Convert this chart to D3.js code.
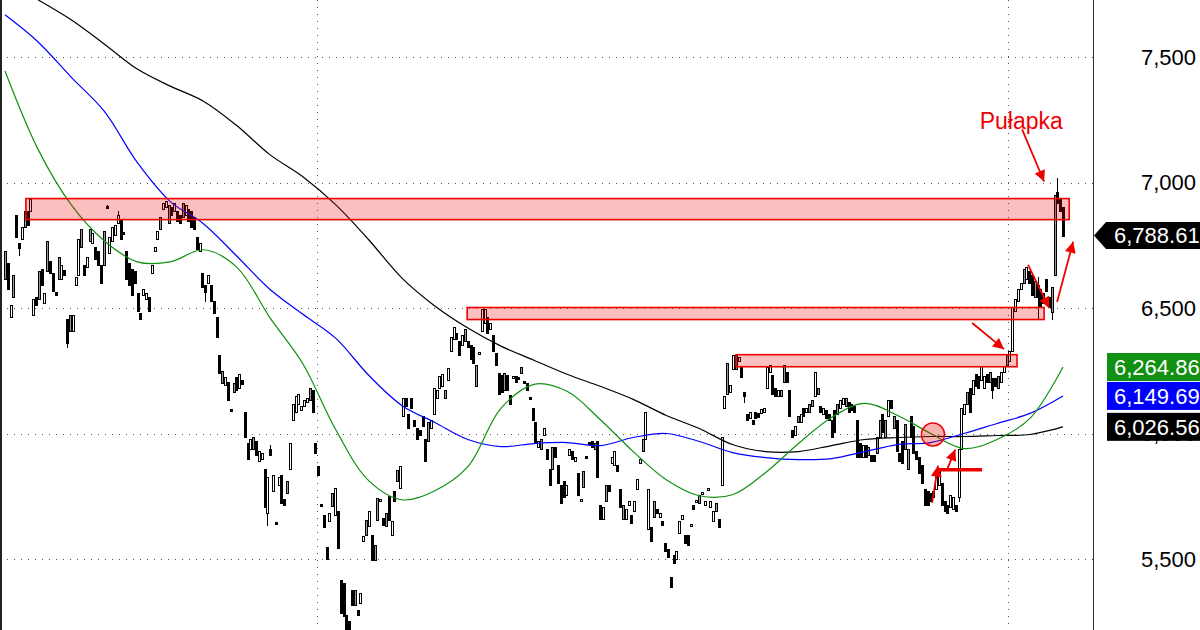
<!DOCTYPE html>
<html><head><meta charset="utf-8">
<script src="https://cdn.jsdelivr.net/npm/d3@7"></script>
<style>
html,body{margin:0;padding:0;background:#fff;}
svg{display:block;font-family:"Liberation Sans",Arial,sans-serif;}
</style></head><body>
<svg id="chart" width="1200" height="630"></svg>
<script>
// [open, high, low, close]
const priceBars = [
[6616,6728,6616,6728],[6680,6680,6576,6576],[6464,6512,6464,6512],[6544,6632,6544,6632],[6872,6872,6784,6784],[6760,6760,6712,6740],[6776,6824,6776,6824],[6824,6888,6824,6888],[6888,6888,6832,6832],[6888,6936,6888,6936],
[6472,6536,6472,6536],[6544,6544,6512,6512],[6536,6648,6536,6648],[6656,6656,6592,6592],[6520,6560,6520,6560],[6648,6768,6648,6768],[6688,6688,6640,6640],[6640,6640,6568,6568],[6564,6564,6552,6552],[6616,6704,6616,6704],
[6616,6672,6616,6672],[6652,6652,6632,6632],[6456,6456,6344,6360],[6408,6472,6408,6472],[6408,6472,6408,6472],[6592,6624,6592,6624],[6632,6776,6632,6776],[6744,6816,6744,6816],[6672,6672,6632,6632],[6664,6704,6664,6704],
[6768,6816,6768,6816],[6760,6800,6760,6800],[6744,6744,6696,6696],[6728,6728,6672,6672],[6672,6672,6600,6600],[6672,6808,6672,6808],[6908,6912,6900,6900],[6720,6784,6720,6784],[6768,6824,6768,6824],[6792,6832,6792,6832],
[6840,6888,6840,6872],[6856,6856,6776,6776],[6804,6804,6796,6796],[6728,6728,6616,6616],[6680,6680,6592,6592],[6656,6656,6552,6552],[6648,6648,6600,6600],[6560,6560,6488,6488],[6480,6480,6456,6456],[6552,6576,6552,6576],
[6536,6560,6536,6560],[6544,6544,6488,6488],[6640,6672,6640,6672],[6728,6744,6728,6744],[6776,6808,6776,6808],[6816,6864,6816,6864],[6896,6920,6896,6920],[6904,6928,6904,6928],[6840,6912,6840,6912],[6904,6904,6872,6872],
[6888,6920,6888,6920],[6888,6888,6848,6848],[6872,6872,6840,6840],[6864,6920,6864,6920],[6872,6912,6872,6912],[6896,6896,6848,6848],[6888,6888,6824,6824],[6864,6864,6816,6816],[6784,6784,6736,6736],[6728,6760,6728,6760],
[6640,6640,6584,6584],[6592,6592,6528,6564],[6600,6632,6600,6632],[6592,6592,6528,6528],[6528,6528,6480,6480],[6464,6464,6384,6384],[6312,6312,6240,6240],[6200,6248,6200,6248],[6192,6224,6192,6224],[6204,6204,6132,6132],
[6096,6096,6088,6088],[6164,6200,6164,6200],[6224,6224,6172,6172],[6180,6236,6180,6236],[6212,6212,6196,6196],[6084,6084,5988,5988],[5964,5964,5900,5900],[5940,5980,5940,5980],[5940,5988,5940,5988],[5972,5972,5916,5916],
[5892,5932,5892,5932],[5900,5924,5900,5924],[5860,5860,5708,5708],[5684,5828,5636,5828],[5940,5956,5916,5916],[5772,5836,5772,5836],[5648,5648,5640,5640],[5796,5828,5796,5828],[5836,5836,5724,5724],[5740,5740,5716,5716],
[5764,5812,5764,5812],[5860,5964,5860,5964],[6052,6116,6052,6116],[6084,6148,6084,6148],[6116,6156,6116,6156],[6092,6108,6092,6108],[6108,6132,6108,6132],[6124,6140,6124,6140],[6132,6180,6132,6180],[6172,6172,6084,6084],
[5964,5964,5924,5924],[5872,5872,5836,5836],[5720,5720,5712,5712],[5676,5676,5628,5628],[5548,5548,5500,5500],[5652,5684,5652,5684],[5712,5764,5712,5764],[5676,5784,5676,5784],[5692,5692,5544,5544],[5416,5416,5284,5284],
[5404,5404,5272,5272],[5276,5276,5164,5204],[5252,5252,5196,5220],[5376,5376,5316,5316],[5316,5376,5316,5376],[5296,5296,5276,5276],[5324,5364,5324,5364],[5572,5592,5572,5592],[5596,5656,5596,5656],[5632,5692,5632,5692],
[5596,5596,5496,5496],[5496,5556,5496,5556],[5656,5744,5656,5744],[5732,5740,5732,5740],[5664,5664,5636,5636],[5632,5684,5632,5684],[5752,5752,5656,5656],[5596,5652,5596,5652],[5772,5772,5732,5732],[5812,5856,5812,5856],
[5784,5872,5784,5872],[6068,6140,6068,6140],[6140,6140,6108,6108],[6076,6076,6020,6020],[6140,6140,6100,6100],[6052,6052,6028,6028],[6020,6020,5980,5980],[6012,6012,5996,5996],[6068,6068,6028,6028],[5980,5980,5892,5892],
[5972,6044,5972,6044],[6020,6052,6020,6052],[6076,6180,6076,6180],[6140,6172,6140,6172],[6180,6228,6180,6228],[6188,6236,6188,6236],[6140,6172,6140,6172],[6212,6260,6212,6260],[6328,6384,6328,6384],[6376,6424,6376,6424],
[6400,6400,6376,6376],[6368,6368,6312,6312],[6352,6392,6352,6392],[6368,6416,6368,6416],[6368,6368,6344,6344],[6352,6352,6296,6296],[6344,6344,6280,6280],[6188,6272,6188,6272],[6316,6324,6316,6324],[6408,6496,6408,6496],
[6440,6496,6440,6496],[6464,6464,6400,6400],[6416,6440,6416,6440],[6392,6392,6328,6328],[6320,6320,6272,6272],[6240,6240,6156,6156],[6232,6232,6164,6164],[6172,6240,6172,6240],[6232,6232,6172,6172],[6152,6152,6116,6116],
[6220,6228,6220,6228],[6228,6228,6204,6204],[6224,6224,6216,6216],[6240,6264,6240,6264],[6208,6208,6200,6200],[6200,6200,6172,6172],[6144,6144,6136,6136],[6100,6100,6052,6052],[6044,6044,5964,5964],[5948,5972,5948,5972],
[5940,5980,5940,5980],[5996,6020,5996,6020],[5940,5940,5900,5900],[5860,5860,5796,5796],[5860,5948,5860,5948],[5948,5948,5908,5908],[5876,5876,5804,5804],[5796,5796,5724,5724],[5812,5812,5748,5748],[5756,5796,5756,5796],
[5916,5940,5916,5940],[5932,5932,5900,5900],[5892,5908,5892,5908],[5844,5844,5756,5756],[5732,5740,5732,5740],[5788,5852,5788,5852],[5912,5912,5904,5904],[5968,5968,5960,5960],[5972,5972,5948,5948],[5940,5964,5940,5964],
[5972,5972,5828,5828],[5716,5716,5660,5660],[5660,5708,5660,5708],[5732,5796,5732,5796],[5796,5796,5772,5772],[5884,5908,5884,5908],[5876,5932,5876,5932],[5876,5876,5852,5852],[5780,5780,5708,5708],[5660,5716,5660,5716],
[5660,5700,5660,5700],[5716,5732,5716,5732],[5676,5676,5644,5644],[5692,5732,5692,5732],[5780,5820,5780,5820],[5884,5900,5884,5900],[5932,5980,5932,5980],[5980,6084,5980,6084],[5620,5780,5620,5780],[5628,5628,5572,5572],
[5668,5732,5668,5732],[5700,5700,5684,5684],[5668,5684,5668,5684],[5652,5652,5636,5636],[5564,5564,5532,5532],[5540,5540,5508,5508],[5428,5428,5388,5388],[5516,5516,5484,5484],[5500,5532,5500,5532],[5604,5652,5604,5652],
[5660,5676,5660,5676],[5596,5596,5564,5564],[5596,5596,5556,5556],[5632,5640,5632,5640],[5716,5716,5700,5700],[5728,5736,5728,5736],[5724,5756,5724,5756],[5760,5768,5760,5768],[5716,5732,5716,5732],[5776,5784,5776,5784],
[5708,5732,5708,5732],[5652,5692,5652,5692],[5692,5724,5692,5724],[5660,5660,5628,5628],[5796,5988,5796,5988],[6100,6148,6100,6148],[6156,6280,6156,6280],[6164,6192,6164,6192],[6256,6312,6256,6312],[6256,6312,6256,6312],
[6288,6304,6288,6304],[6264,6264,6224,6224],[6164,6164,6124,6148],[6076,6076,6052,6052],[6060,6084,6060,6084],[6052,6052,6036,6036],[6084,6084,6060,6060],[6080,6080,6064,6064],[6080,6096,6080,6096],[6084,6100,6084,6100],
[6180,6264,6180,6264],[6244,6272,6244,6272],[6232,6232,6156,6156],[6180,6180,6148,6148],[6148,6172,6148,6172],[6148,6172,6148,6172],[6204,6272,6204,6272],[6244,6244,6204,6204],[6172,6172,6068,6068],[6012,6012,5988,5988],
[5996,6028,5996,6028],[6044,6068,6044,6068],[6044,6076,6044,6076],[6100,6100,6068,6068],[6084,6100,6084,6100],[6084,6116,6084,6116],[6108,6132,6108,6132],[6148,6244,6148,6244],[6156,6180,6156,6180],[6108,6108,6084,6084],
[6076,6100,6076,6100],[6092,6092,6060,6060],[6076,6076,6052,6052],[6052,6052,5988,5988],[6092,6092,6004,6004],[6076,6116,6076,6116],[6100,6132,6100,6132],[6116,6140,6116,6140],[6108,6140,6108,6140],[6124,6124,6084,6084],
[6116,6116,6092,6092],[6108,6108,6084,6084],[6052,6052,5908,5908],[5964,5964,5908,5908],[5908,5956,5908,5956],[5956,5956,5908,5908],[5916,5948,5916,5948],[5916,5916,5892,5892],[5916,5916,5892,5892],[5924,5988,5924,5988],
[5988,6052,5988,6052],[6076,6076,6004,6004],[5988,6052,5988,6052],[6068,6132,6068,6132],[6132,6132,6100,6100],[6020,6068,6020,6068],[6052,6052,5932,5932],[5924,5924,5892,5892],[5972,5972,5884,5884],[5940,6036,5940,6036],
[5860,5940,5860,5940],[6068,6068,5988,5988],[6028,6028,5924,5924],[5932,5932,5900,5900],[5908,5908,5844,5844],[5876,5876,5804,5804],[5780,5780,5716,5716],[5772,5772,5716,5716],[5764,5764,5732,5732],[5748,5772,5748,5772],
[5780,5836,5780,5836],[5796,5860,5796,5860],[5804,5804,5716,5716],[5732,5732,5692,5692],[5716,5716,5684,5684],[5708,5756,5708,5756],[5700,5748,5700,5748],[5716,5716,5692,5692],[5748,5940,5732,5940],[5940,6100,5940,6100],
[6076,6116,6076,6116],[6116,6164,6116,6164],[6180,6180,6084,6084],[6156,6212,6156,6212],[6236,6236,6188,6188],[6228,6228,6180,6180],[6212,6268,6212,6268],[6180,6228,6180,6228],[6236,6236,6204,6204],[6204,6244,6204,6244],
[6220,6220,6140,6172],[6220,6220,6188,6188],[6180,6228,6180,6228],[6204,6244,6204,6244],[6244,6268,6244,6268],[6272,6312,6272,6312],[6288,6328,6288,6328],[6328,6504,6328,6504],[6488,6536,6488,6536],[6528,6576,6528,6576],
[6576,6600,6576,6600],[6600,6656,6600,6656],[6616,6664,6616,6664],[6648,6648,6600,6600],[6632,6632,6552,6552],[6544,6608,6544,6608],[6592,6624,6456,6544],[6576,6576,6504,6504],[6560,6560,6520,6520],[6616,6616,6568,6568],
[6544,6544,6504,6504],[6484,6584,6456,6584],[6632,6952,6632,6952],[6964,7016,6920,6920],[6936,6936,6888,6888],[6904,6904,6788.61,6788.61]
];
// w = white (hollow), b = black, g = grey
const candleKinds =
 "gbwgbbwgbw"+"wbgbwgbbbg"+"wbbgwwwgbw"+"gwbbbgbwww"+"wbbbbbbbbw"+"wbwwwgwwgb"+"wbbgwbbbbw"+"bbwbbbbgwb"+"bgbwbbbwgb"+"wwbwbwbwbb"+
 "gwwwwwwwgb"+"bbbbbwgwbb"+"bbbbgbwwgw"+"bggwbgbwbg"+"wwbbbbbbbb"+"gwwwwwgwww"+"bbwgbbbgww"+"wbwbbbbgbb"+"wbbgbbbbbw"+"gwbbgbbbbw"+
 "wbwbwgbbbg"+"bbwgbwwbbg"+"wwbwwwgwwb"+"gbwbbbbbww"+"wbbwbwgwww"+"wwgbwwgwwg"+"wbbbwbbbww"+"wwbbwggbbb"+"wgwbwggwgb"+"wbbbbgwwgb"+
 "bbbbwbgbbg"+"gbgwbgbbbg"+"gbbbbbbbbw"+"wwbbbwwbwww"+"gbwb"+"b"+"wwbgb"+"b"+"gwwgwwww"+"wgwbbgb"+"bb"+"bbggb"+"bb";

// moving averages sampled evenly across the bar range
const maSlow = [7808,7728,7648,7552,7452,7384,7324,7228,7112,7024,6912,6772,6620,6508,6420,6348,6292,6236,6188,6136,6072,6020,5956,5928,5928,5952,5976,5984,5988,5988,5992,5996,6026.56];
const maMid  = [7668,7560,7420,7284,7080,6924,6836,6708,6576,6476,6380,6232,6112,6044,5976,5948,5960,5964,5952,5984,6000,5968,5924,5904,5896,5900,5928,5956,5964,6000,6040,6080,6149.69];
const maFast = [7444,7132,6912,6768,6684,6684,6732,6664,6464,6280,6016,5812,5736,5772,5868,6100,6196,6168,6056,5928,5816,5752,5756,5844,5960,6064,6120,6072,6000,5940,5976,6060,6264.86];

const yTicks = [5500,6000,6500,7000,7500];
const separators = [110.5, 355.5];
const lastPrice = 6788.61;
const maLabelValues = [6264.86, 6149.69, 6026.56];
const maLabelColors = ["#119011", "#0000ff", "#000000"];

// annotations in (bar index, price)
const zones = [
  {from:7.4, to:377.2, top:6936, bottom:6852},
  {from:163.8, to:368.3, top:6502, bottom:6454},
  {from:259.1, to:358.7, top:6314, bottom:6266}
];
const arrows = [
  {i1:328.6, v1:5724, i2:330.7, v2:5872},
  {i1:333.9, v1:5856, i2:336.8, v2:5936},
  {i1:342.8, v1:6440, i2:354.1, v2:6336},
  {i1:360.5, v1:7212, i2:368.3, v2:7004},
  {i1:362.6, v1:6672, i2:370.1, v2:6500},
  {i1:372.9, v1:6524, i2:378.6, v2:6764}
];
const markLine = {from:330.7, to:346.3, v:5856};
const markCircle = {i:328.9, v:5996};
const note = {text:"Pułapka", i:360.2, v:7212};

const W = 1200, H = 630, axisX = 1093;
const N = priceBars.length;
const svg = d3.select("#chart");
const x = d3.scaleLinear().domain([0, N-1]).range([5, 1063]);
const y = d3.scaleLinear().domain([5500, 7500]).range([559, 57]);

const defs = svg.append("defs");
defs.append("clipPath").attr("id","plotClip").append("rect").attr("x",0).attr("y",0).attr("width",axisX).attr("height",H);
defs.append("marker").attr("id","ah").attr("viewBox","0 0 10 10").attr("refX",10).attr("refY",5)
  .attr("markerUnits","userSpaceOnUse").attr("markerWidth",13).attr("markerHeight",11).attr("orient","auto")
  .append("path").attr("d","M0,0 L10,5 L0,10 Z").attr("fill","#ee0000");

const plot = svg.append("g").attr("clip-path","url(#plotClip)");

// grid
plot.append("g").selectAll("line").data(yTicks).join("line")
  .attr("x1",0).attr("x2",axisX).attr("y1",d=>Math.round(y(d))+0.5).attr("y2",d=>Math.round(y(d))+0.5)
  .attr("stroke","#555").attr("stroke-dasharray","1,6");
plot.append("g").selectAll("line").data(separators).join("line")
  .attr("x1",d=>Math.round(x(d))+0.5).attr("x2",d=>Math.round(x(d))+0.5).attr("y1",0).attr("y2",H)
  .attr("stroke","#555").attr("stroke-dasharray","1,6");
svg.append("line").attr("x1",1).attr("x2",1).attr("y1",0).attr("y2",H).attr("stroke","#222").attr("stroke-width",2);

// candles
const fills = {w:"#ffffff", b:"#000000", g:"#999999"};
const cg = plot.append("g").attr("shape-rendering","crispEdges");
const candle = cg.selectAll("g").data(priceBars).join("g");
candle.append("line")
  .attr("x1",(d,i)=>Math.round(x(i))+0.5).attr("x2",(d,i)=>Math.round(x(i))+0.5)
  .attr("y1",d=>Math.round(y(d[1]))).attr("y2",d=>Math.round(y(d[2]))+1)
  .attr("stroke","#000");
candle.append("rect")
  .attr("x",(d,i)=>Math.round(x(i))-0.5).attr("width",2)
  .attr("y",d=>Math.round(y(Math.max(d[0],d[3])))+0.5)
  .attr("height",d=>Math.max(1, Math.round(y(Math.min(d[0],d[3]))) - Math.round(y(Math.max(d[0],d[3])))))
  .attr("fill",(d,i)=>fills[candleKinds[i]]).attr("stroke","#000");

// moving averages
const maLine = arr => d3.line().x((d,j)=>x(j*(N-1)/(arr.length-1))).y(d=>y(d)).curve(d3.curveCatmullRom.alpha(0.5))(arr);
[[maSlow,"#000000"],[maMid,"#0000ff"],[maFast,"#119011"]].forEach(([arr,c])=>{
  plot.append("path").attr("d",maLine(arr)).attr("fill","none").attr("stroke",c).attr("stroke-width",1.2);
});

// zones
plot.append("g").selectAll("rect").data(zones).join("rect")
  .attr("x",d=>x(d.from)).attr("width",d=>x(d.to)-x(d.from))
  .attr("y",d=>y(d.top)).attr("height",d=>y(d.bottom)-y(d.top))
  .attr("fill","rgba(240,0,0,0.25)").attr("stroke","#ee0000").attr("stroke-width",1.6);

// circle
plot.append("circle").attr("cx",x(markCircle.i)).attr("cy",y(markCircle.v)).attr("r",11.5)
  .attr("fill","rgba(240,0,0,0.3)").attr("stroke","#ee0000").attr("stroke-width",1.5);
// thick horizontal line
plot.append("line").attr("x1",x(markLine.from)).attr("x2",x(markLine.to)).attr("y1",y(markLine.v)).attr("y2",y(markLine.v))
  .attr("stroke","#ee0000").attr("stroke-width",3.5);
// arrows
plot.append("g").selectAll("line").data(arrows).join("line")
  .attr("x1",d=>x(d.i1)).attr("y1",d=>y(d.v1)).attr("x2",d=>x(d.i2)).attr("y2",d=>y(d.v2))
  .attr("stroke","#ee0000").attr("stroke-width",1.8).attr("marker-end","url(#ah)");
// note
plot.append("text").attr("x",x(note.i)).attr("y",y(note.v)).attr("text-anchor","middle")
  .attr("font-size",23).attr("fill","#ee0000").text(note.text);

// right axis
svg.append("line").attr("x1",axisX+0.5).attr("x2",axisX+0.5).attr("y1",0).attr("y2",H).attr("stroke","#333");
const fmt = d3.format(",");
svg.append("g").selectAll("text").data(yTicks).join("text")
  .attr("x",1141).attr("y",d=>y(d)).attr("dy","0.36em").attr("font-size",22).attr("fill","#000").text(d=>fmt(d));

// value labels
const fmt2 = d3.format(",.2f");
const ly = y(lastPrice);
svg.append("path").attr("d",`M${axisX+1},${ly} L${1106},${ly-13.5} L1200,${ly-13.5} L1200,${ly+13.5} L1106,${ly+13.5} Z`).attr("fill","#000");
svg.append("text").attr("x",1114).attr("y",ly).attr("dy","0.36em").attr("font-size",22).attr("fill","#fff").text(fmt2(lastPrice));
maLabelValues.forEach((v,k)=>{
  const yy = y(v);
  svg.append("rect").attr("x",1107).attr("y",yy-14).attr("width",93).attr("height",28).attr("fill",maLabelColors[k]);
  svg.append("text").attr("x",1114).attr("y",yy).attr("dy","0.36em").attr("font-size",22).attr("fill","#fff").text(fmt2(v));
});
</script>
</body></html>
